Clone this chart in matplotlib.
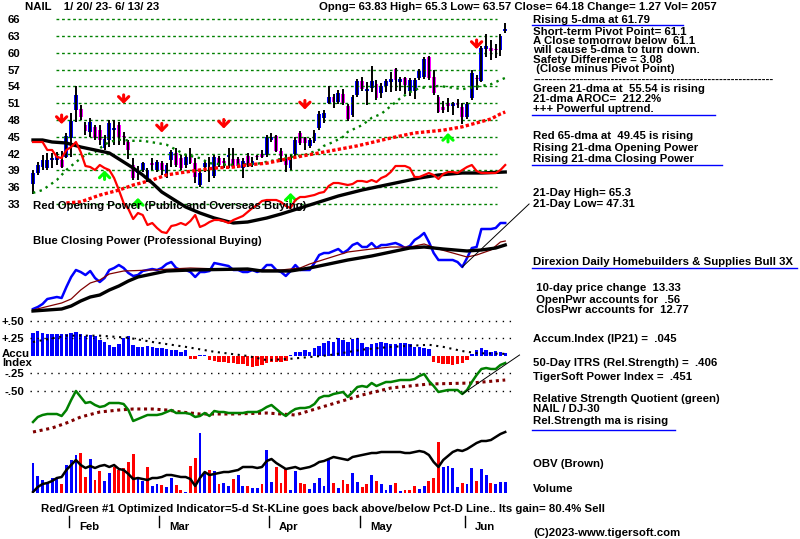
import matplotlib
matplotlib.use('Agg')
import matplotlib.pyplot as plt
from matplotlib import font_manager, transforms
from matplotlib.lines import Line2D
import numpy as np

names = {f.name for f in font_manager.fontManager.ttflist}
if 'Liberation Sans Narrow' in names:
    FONT, FS = 'Liberation Sans Narrow', 9.6
else:
    FONT, FS = 'Liberation Sans', 8.2
plt.rcParams['font.family'] = [FONT, 'DejaVu Sans']
plt.rcParams['font.weight'] = 'bold'
plt.rcParams['font.size'] = FS

# ---- daily price bars, 1/20/23 .. 6/13/23 ----
opens = [36.6, 38.6, 39.6, 39.4, 40.9, 40.9, 40.9, 41.4, 44.8, 49.8,
         50.0, 47.1, 45.9, 46.8, 46.2, 43.0, 44.4, 46.2, 47.1, 45.2,
         44.1, 40.0, 38.6, 39.1, 37.3, 40.4, 39.1, 40.4, 37.9, 40.9,
         42.1, 41.2, 40.0, 41.4, 40.4, 36.4, 39.7, 39.6, 38.0, 41.2,
         40.6, 41.4, 41.1, 41.1, 39.4, 41.6, 40.0, 41.6, 41.9, 41.8,
         44.5, 45.2, 42.5, 41.2, 39.5, 42.0, 45.7, 44.8, 43.4, 44.3,
         46.6, 48.4, 51.0, 52.1, 51.2, 52.7, 50.5, 48.9, 52.5, 55.0,
         53.2, 53.7, 54.4, 52.8, 54.1, 54.8, 57.1, 54.8, 55.5, 53.2,
         53.2, 55.5, 55.7, 59.3, 55.7, 52.1, 50.3, 51.0, 50.5, 51.0,
         50.3, 48.6, 52.0, 55.5, 55.0, 60.7, 60.9, 60.7, 60.5, 63.83]
highs = [39.1, 40.5, 41.8, 42.1, 42.1, 42.3, 42.5, 45.7, 49.3, 54.0,
         50.7, 47.7, 48.4, 47.1, 47.1, 45.3, 48.0, 48.0, 47.7, 45.9,
         44.5, 41.2, 39.8, 40.6, 39.4, 41.2, 40.9, 40.7, 40.4, 42.7,
         43.0, 41.8, 41.8, 43.0, 41.2, 39.1, 40.9, 41.4, 41.8, 41.6,
         41.2, 43.0, 43.0, 41.4, 41.2, 42.1, 41.4, 41.8, 42.7, 45.3,
         45.7, 45.3, 43.0, 41.8, 41.8, 45.0, 46.1, 45.0, 44.8, 46.2,
         49.6, 49.8, 54.1, 52.7, 53.4, 53.5, 50.9, 52.5, 55.3, 55.7,
         54.8, 57.7, 55.2, 54.6, 55.3, 56.6, 57.3, 55.7, 55.7, 55.5,
         55.5, 57.1, 59.3, 59.4, 57.0, 52.5, 51.4, 51.9, 51.2, 51.8,
         51.0, 51.2, 56.9, 56.1, 61.2, 63.4, 62.3, 61.6, 63.4, 65.3]
lows = [34.8, 38.2, 39.1, 39.1, 39.4, 40.0, 39.4, 41.2, 41.4, 47.7,
        48.0, 45.3, 45.0, 44.4, 43.6, 42.7, 43.2, 43.6, 43.6, 43.6,
        41.1, 37.3, 37.3, 38.8, 37.0, 39.1, 38.8, 38.2, 37.7, 39.6,
        39.6, 39.1, 39.5, 40.2, 36.8, 36.0, 38.8, 36.9, 37.7, 39.6,
        39.4, 39.4, 39.4, 39.4, 37.7, 39.6, 39.6, 40.9, 41.2, 41.4,
        44.1, 42.3, 40.5, 38.8, 39.1, 41.4, 43.6, 42.7, 43.0, 43.9,
        46.2, 47.5, 50.9, 50.2, 50.9, 50.7, 47.8, 48.6, 52.1, 53.2,
        50.7, 53.0, 51.6, 51.9, 53.0, 53.0, 53.2, 53.2, 52.7, 52.3,
        51.8, 55.2, 55.4, 55.2, 52.5, 49.3, 49.3, 49.5, 48.9, 50.2,
        47.31, 48.2, 51.6, 53.4, 54.8, 59.3, 58.7, 59.1, 59.4, 63.57]
closes = [38.6, 40.0, 40.9, 40.9, 41.3, 41.6, 39.6, 45.2, 47.8, 52.5,
          48.6, 46.0, 47.7, 44.8, 44.5, 44.6, 47.5, 46.6, 45.0, 44.9,
          42.7, 37.7, 38.9, 40.4, 39.1, 40.0, 40.6, 39.1, 40.0, 42.3,
          40.0, 39.5, 41.4, 40.3, 37.9, 38.6, 40.4, 39.3, 41.4, 40.0,
          40.4, 41.8, 39.6, 39.8, 40.7, 40.0, 40.7, 41.4, 41.4, 45.0,
          45.0, 42.5, 41.6, 40.0, 41.4, 44.5, 43.9, 43.9, 44.5, 45.7,
          49.1, 49.3, 52.1, 51.2, 52.8, 51.0, 48.2, 52.1, 55.0, 53.5,
          53.5, 55.0, 51.9, 54.1, 55.0, 55.3, 55.2, 55.3, 54.3, 55.2,
          55.2, 56.8, 58.9, 55.5, 52.8, 49.4, 49.8, 50.5, 51.0, 50.7,
          48.6, 50.9, 56.4, 55.3, 60.9, 61.2, 60.3, 60.5, 63.0, 64.18]

volume = [5700, 3230, 2470, 2090, 2850, 2660, 1710, 5320, 6270, 7220,
          7600, 3040, 6460, 2470, 4180, 2280, 3800, 4940, 4370, 4750,
          5890, 7410, 3040, 2280, 4940, 1330, 1710, 1520, 1140, 2850,
          1520, 570, 190, 5130, 6650, 11400, 3990, 4370, 4180, 1710,
          1900, 1330, 2660, 3420, 1330, 1330, 950, 950, 1710, 8170,
          2090, 4940, 1900, 4560, 570, 4180, 1900, 1710, 760, 1900,
          2850, 1330, 6270, 1900, 950, 2470, 1710, 3800, 2090, 1140,
          1710, 3420, 2280, 1710, 570, 1520, 1900, 380, 570, 570,
          1330, 760, 1330, 2280, 2850, 9690, 4940, 5130, 4750, 1140,
          1900, 1710, 4750, 2280, 4560, 3420, 1900, 1710, 2090, 2057]
vol_dir = ("uuuuuuduuu" "ddudduuddd" "dduuduuduu" "ddudduudud" "uuduuduudu"
           "uddduudduu" "uuududduud" "duduuududd" "duuddduuuu" "duuduuduuu")

# moving averages of price (read at turning points)
ma21_day = [0, 2, 5, 7, 9, 11, 13, 15, 16, 18, 21, 23, 26, 28, 30, 32, 35, 37, 41, 47,
            51, 54, 57, 60, 61, 63, 65, 66, 69, 71, 73, 75, 77, 79, 81, 83, 85, 87, 90, 91,
            94, 96, 97, 99]
ma21_val = [35.0, 35.5, 37.3, 39.1, 40.5, 41.8, 42.3, 43.6, 44.1, 44.5, 44.3, 44.3, 43.9, 43.6,
            42.7, 41.8, 41.2, 40.3, 40.0, 40.2, 40.9, 41.4, 41.8, 42.7, 43.4, 44.1, 45.0, 45.9,
            47.1, 48.4, 49.1, 50.5, 51.9, 53.0, 53.7, 53.9, 54.1, 53.9, 53.5, 53.7, 54.1, 54.4,
            54.8, 55.54]
ma65_day = [7, 10, 14, 18, 21, 25, 28, 31, 35, 39, 42, 45, 49, 54, 61, 68, 75, 80, 86, 90,
            93, 96, 98, 99]
ma65_val = [33.2, 33.4, 34.6, 35.5, 36.4, 37.3, 38.2, 38.6, 39.1, 39.5, 39.6, 40.0, 40.3, 41.2,
            42.3, 43.4, 44.8, 45.7, 46.2, 46.8, 47.5, 48.2, 49.1, 49.45]

# opening power (red) and its 21-dma (black)
open_pwr = [98, 98, 98, 90, 90, 83, 82, 90, 93, 98,
            88, 74, 73, 70, 75, 72, 70, 62, 50, 37,
            31, 21, 27, 25, 15, 17, 12, 8, 7, 14,
            15, 17, 15, 19, 25, 13, 15, 18, 20, 20,
            19, 17, 20, 22, 24, 28, 32, 35, 39, 40,
            40, 40, 38, 34, 32, 40, 43, 43, 44, 45,
            47, 48, 54, 57, 57, 56, 55, 56, 59, 59,
            58, 60, 58, 62, 64, 68, 74, 74, 74, 72,
            63, 63, 65, 67, 65, 61, 66, 68, 68, 67,
            70, 73, 75, 69, 67, 67, 67, 67, 70, 75]
opma_day = [0, 2, 4, 7, 10, 14, 16, 19, 21, 23, 25, 27, 29, 32, 35, 38, 42, 45, 49, 52,
            56, 60, 64, 69, 73, 77, 81, 85, 90, 94, 99]
opma_val = [100, 100, 98, 97, 93, 89, 87, 78, 72, 65, 57, 48, 42, 33, 27, 22, 17, 18, 22, 26,
            32, 38, 44, 50, 54, 58, 62, 65, 67, 67, 68]

# closing power (blue) with its averages
close_pwr = [6, 8, 11, 16, 17, 18, 17, 28, 38, 45,
             43, 40, 44, 37, 33, 37, 45, 47, 50, 47,
             42, 39, 40, 44, 45, 46, 45, 47, 51, 53,
             47, 45, 45, 43, 38, 43, 43, 44, 52, 51,
             50, 49, 45, 45, 43, 43, 45, 43, 45, 50,
             50, 45, 43, 39, 44, 50, 45, 45, 45, 52,
             60, 62, 62, 64, 66, 62, 65, 70, 72, 68,
             68, 72, 67, 70, 70, 71, 72, 70, 67, 69,
             75, 78, 82, 73, 62, 55, 55, 55, 55, 53,
             48, 57, 67, 68, 86, 86, 86, 87, 92, 92]
cpma_day = [0, 6, 8, 10, 12, 14, 16, 19, 25, 33, 45, 52, 56, 58, 62, 66, 71, 75, 79, 82,
            85, 88, 91, 93, 96, 98, 99]
cpma_val = [5, 12, 16, 25, 32, 35, 41, 44, 45, 47, 45, 45, 47, 51, 57, 63, 66, 68, 68, 71,
            66, 62, 58, 60, 65, 73, 74]
cpma2_day = [0, 6, 8, 10, 12, 14, 16, 18, 20, 22, 25, 28, 33, 45, 48, 54, 58, 62, 66, 71,
             75, 79, 82, 86, 91, 94, 97, 99]
cpma2_val = [4, 6, 9, 14, 18, 20, 25, 29, 34, 38, 41, 44, 45, 46, 44, 44, 47, 51, 55, 59,
             63, 67, 68, 66, 64, 65, 67, 70]
cp_trend = (90, 48, 4.5, 104)     # start day, value, slope/day, end day

# accumulation index (IP21)
accum = [.33, .35, .33, .31, .32, .32, .31, .32, .33, .34,
         .31, .28, .30, .28, .23, .20, .16, .13, .17, .25,
         .28, .16, .13, .13, .14, .13, .12, .11, .10, .09,
         .08, .06, .08, -.05, -.05, .02, .02, -.06, -.07, -.08,
         -.09, -.10, -.10, -.11, -.12, -.14, -.16, -.14, -.13, -.10,
         -.09, -.08, -.09, -.07, .02, .06, .05, .08, .06, .11,
         .14, .18, .22, .20, .25, .23, .20, .24, .25, .19,
         .13, .17, .18, .20, .18, .17, .17, .19, .18, .17,
         .13, .13, .11, .10, -.08, -.10, -.11, -.12, -.13, -.12,
         -.10, -.06, .03, .08, .12, .08, .06, .07, .05, .045]
accma_day = [0, 7, 14, 20, 25, 32, 38, 45, 49, 54, 62, 69, 75, 83, 86, 90, 93, 99]
accma_val = [.20, .29, .29, .26, .20, .13, .06, 0, -.06, -.04, .01, .09, .13, .16, .13, .07,
             .04, .03]

# relative strength quotient NAIL / DJ-30 (green) and its ma
rel_str = [18, 23, 25, 26, 26, 26, 24, 30, 40, 49,
           43, 37, 38, 35, 33, 34, 37, 37, 37, 36,
           30, 19, 21, 23, 25, 25, 25, 26, 28, 30,
           27, 27, 27, 26, 23, 24, 27, 24, 29, 28,
           28, 27, 27, 27, 27, 28, 28, 28, 30, 33,
           35, 31, 27, 24, 28, 31, 32, 32, 33, 36,
           42, 44, 44, 46, 47, 48, 43, 48, 53, 54,
           53, 57, 54, 56, 58, 58, 59, 60, 60, 60,
           61, 64, 66, 59, 54, 48, 49, 50, 50, 50,
           46, 50, 58, 65, 71, 72, 71, 71, 75, 77]
rsma_day = [0, 4, 7, 10, 14, 18, 21, 25, 28, 31, 35, 42, 49, 55, 62, 69, 75, 83, 92, 99]
rsma_val = [8, 12, 17, 23, 28, 30, 31, 31, 30, 28, 26, 26, 27, 25, 35, 45, 52, 56, 57, 60]
rs_trend = (90, 46, 3.25, 102)

# on-balance volume
obv = [1, 6, 9, 10, 12, 15, 16, 23, 28, 33,
       28, 25, 27, 25, 27, 28, 26, 28, 24, 23,
       19, 14, 15, 14, 13, 15, 15, 16, 18, 18,
       17, 16, 16, 14, 7, 15, 21, 18, 19, 20,
       21, 21, 22, 23, 26, 26, 26, 25, 26, 32,
       34, 30, 27, 24, 25, 26, 24, 25, 26, 28,
       31, 32, 34, 36, 35, 34, 33, 36, 37, 38,
       39, 40, 40, 41, 41, 41, 41, 41, 40, 40,
       41, 42, 41, 38, 31, 26, 33, 37, 41, 43,
       42, 44, 47, 50, 52, 52, 53, 56, 59, 61]

sell_days = [6, 19, 27, 40, 57, 93]
sell_tips = [46.8, 50.4, 45.3, 46.0, 49.4, 60.2]
buy_days = [15, 22, 54, 87]
buy_tips = [39.5, 34.6, 35.5, 46.2]

months = ['Feb', 'Mar', 'Apr', 'May', 'Jun']
month_start = [8, 27, 50, 69, 91]

BLUE, RED, MAG, GREEN, BROWN = '#0000ff', '#ff0000', '#ff00ff', '#008000', '#800000'

W, H = 800, 539
fig = plt.figure(figsize=(W / 100, H / 100), dpi=100)
fig.patch.set_facecolor('white')
L, R = 30, 515
X0, X1 = -0.63, 101.05


def panel(top, bottom, ylim):
    ax = fig.add_axes([L / W, 1 - bottom / H, (R - L) / W, (bottom - top) / H])
    ax.set_xlim(X0, X1)
    ax.set_ylim(*ylim)
    ax.patch.set_visible(False)
    for s in ax.spines.values():
        s.set_visible(False)
    ax.set_xticks([])
    ax.set_yticks([])
    return ax


def ftext(x, y, s, **kw):
    fig.text(x / W, 1 - y / H, s, va='center', ha='left', **kw)


def uline(x1, x2, y):
    fig.add_artist(Line2D([x1 / W, x2 / W], [1 - y / H, 1 - y / H],
                          transform=fig.transFigure, color=BLUE, lw=1))


days = np.arange(len(closes))

# ---- price panel ----
ax_p = panel(10, 215, (31.05, 67.66))
ax_p.hlines(np.arange(33, 67, 3), 4.8, 97.3, colors=GREEN, linestyles=(0, (2, 2)), lw=1)
o, h, l, c = map(np.array, (opens, highs, lows, closes))
up = c >= o
ax_p.vlines(days, l, h, color='black', lw=1.4)
ax_p.bar(days, np.maximum(np.abs(c - o), 0.25), bottom=np.minimum(o, c), width=0.8,
         color=np.where(up, BLUE, MAG), linewidth=0)
ax_p.plot(ma21_day, ma21_val, color=GREEN, lw=1.7, ls=(0, (1, 1.9)))
ax_p.plot(ma65_day, ma65_val, color=RED, lw=2.4, ls=(0, (1, 0.7)))
ax_p.set_yticks(np.arange(33, 67, 3))
ax_p.set_yticklabels([str(v) for v in range(33, 67, 3)], fontweight='bold')
ax_p.tick_params(axis='y', length=0, pad=7)
arrow = '->,head_width=0.45,head_length=0.45'
for d, t in zip(sell_days, sell_tips):
    ax_p.annotate('', xy=(d, t), xytext=(d, t + 2.6),
                  arrowprops=dict(arrowstyle=arrow, color=RED, lw=2.2))
for d, t in zip(buy_days, buy_tips):
    ax_p.annotate('', xy=(d, t), xytext=(d, t - 2.6),
                  arrowprops=dict(arrowstyle=arrow, color='#00ff00', lw=2.2))

ax_op = panel(130, 240, (0, 110))
ax_op.plot(opma_day, opma_val, color='black', lw=2.4)
ax_op.plot(days, open_pwr, color=RED, lw=1.6)

# ---- closing power ----
ax_cp = panel(215, 315, (0, 100))
ax_cp.plot(days, close_pwr, color=BLUE, lw=1.8)
ax_cp.plot(cpma_day, cpma_val, color=BROWN, lw=0.9)
ax_cp.plot(cpma2_day, cpma2_val, color='black', lw=2.4)
d0, v0, sl, d1 = cp_trend
ax_cp.plot([d0, d1], [v0, v0 + sl * (d1 - d0)], color='black', lw=0.7, clip_on=False)

# ---- accumulation index ----
ax_a = panel(316, 400, (-0.629, 0.571))
for lv in (0.5, 0.25, -0.25, -0.5):
    ax_a.axhline(lv, color='black', lw=1, ls=(0, (1, 4)))
acc = np.array(accum)
ax_a.bar(days, acc, width=0.72, color=np.where(acc >= 0, BLUE, RED), linewidth=0)
ax_a.plot(accma_day, accma_val, color='black', lw=1.5, ls=(0, (1, 2.2)))
ax_a.set_yticks([0.5, 0.25, -0.25, -0.5])
ax_a.set_yticklabels(['+.50', '+.25', '-.25', '-.50'], fontweight='bold')
ax_a.tick_params(axis='y', length=0, pad=4)

# ---- relative strength ----
ax_r = panel(355, 440, (0, 85))
ax_r.plot(rsma_day, rsma_val, color=BROWN, lw=2.2, ls=(0, (1, 1.2)))
ax_r.plot(days, rel_str, color=GREEN, lw=1.8)
d0, v0, sl, d1 = rs_trend
ax_r.plot([d0, d1], [v0, v0 + sl * (d1 - d0)], color='black', lw=0.7, clip_on=False)

# ---- volume & OBV ----
ax_v = panel(425, 493, (0, 12920))
ax_v.bar(days, volume, width=0.6, linewidth=0,
         color=[BLUE if d == 'u' else RED for d in vol_dir])
ax_o = panel(425, 493, (0, 68))
ax_o.plot(days, obv, color='black', lw=1.8)

# month ticks
tr = transforms.blended_transform_factory(ax_p.transData, fig.transFigure)
for m, s in zip(months, month_start):
    ax_p.plot([s - 0.5, s - 0.5], [1 - 516 / H, 1 - 527 / H], color='black', lw=1,
              transform=tr, clip_on=False)
    ax_p.text(s + 1.6, 1 - 527 / H, m, transform=tr, va='center', ha='left')

# ---- texts ----
ftext(25, 7, 'NAIL    1/ 20/ 23- 6/ 13/ 23')
ftext(319, 7, 'Opng= 63.83 High= 65.3 Low= 63.57 Close= 64.18 Change= 1.27 Vol= 2057')
ftext(33, 206, 'Red Opening Power (Public and Overseas Buying)')
ftext(33, 241, 'Blue Closing Power (Professional Buying)')
ftext(2, 354, 'Accu')
ftext(2, 363, 'Index')
ftext(41, 509, 'Red/Green #1 Optimized Indicator=5-d St-KLine goes back above/below '
               'Pct-D Line.. Its gain= 80.4% Sell')

right = [(20, 'Rising 5-dma at 61.79'),
         (32, 'Short-term Pivot Point= 61.1'),
         (41, 'A Close tomorrow below  61.1'),
         (50, 'will cause 5-dma to turn down.'),
         (60, 'Safety Difference = 3.08'),
         (69, ' (Close minus Pivot Point)'),
         (80, '-' * 62),
         (89, 'Green 21-dma at  55.54 is rising'),
         (99, '21-dma AROC=  212.2%'),
         (109, '+++ Powerful uptrend.'),
         (136, 'Red 65-dma at  49.45 is rising'),
         (148, 'Rising 21-dma Opening Power'),
         (159, 'Rising 21-dma Closing Power'),
         (193, '21-Day High= 65.3'),
         (204, '21-Day Low= 47.31'),
         (262, 'Direxion Daily Homebuilders & Supplies Bull 3X'),
         (288, ' 10-day price change  13.33'),
         (300, ' OpenPwr accounts for  .56'),
         (310, ' ClosPwr accounts for  12.77'),
         (339, 'Accum.Index (IP21) =  .045'),
         (363, '50-Day ITRS (Rel.Strength) =  .406'),
         (377, 'TigerSoft Power Index =  .451'),
         (399, 'Relative Strength Quotient (green)'),
         (409, 'NAIL / DJ-30'),
         (421, 'Rel.Strength ma is rising'),
         (464, 'OBV (Brown)'),
         (489, 'Volume'),
         (533, '(C)2023-www.tigersoft.com')]
for y, s in right:
    ftext(533, y, s)
for x1, x2, y in [(532, 683, 25), (532, 715, 115), (532, 722, 165), (532, 797, 268),
                  (532, 675, 430)]:
    uline(x1, x2, y)

fig.savefig('out.png', dpi=100, facecolor='white')
